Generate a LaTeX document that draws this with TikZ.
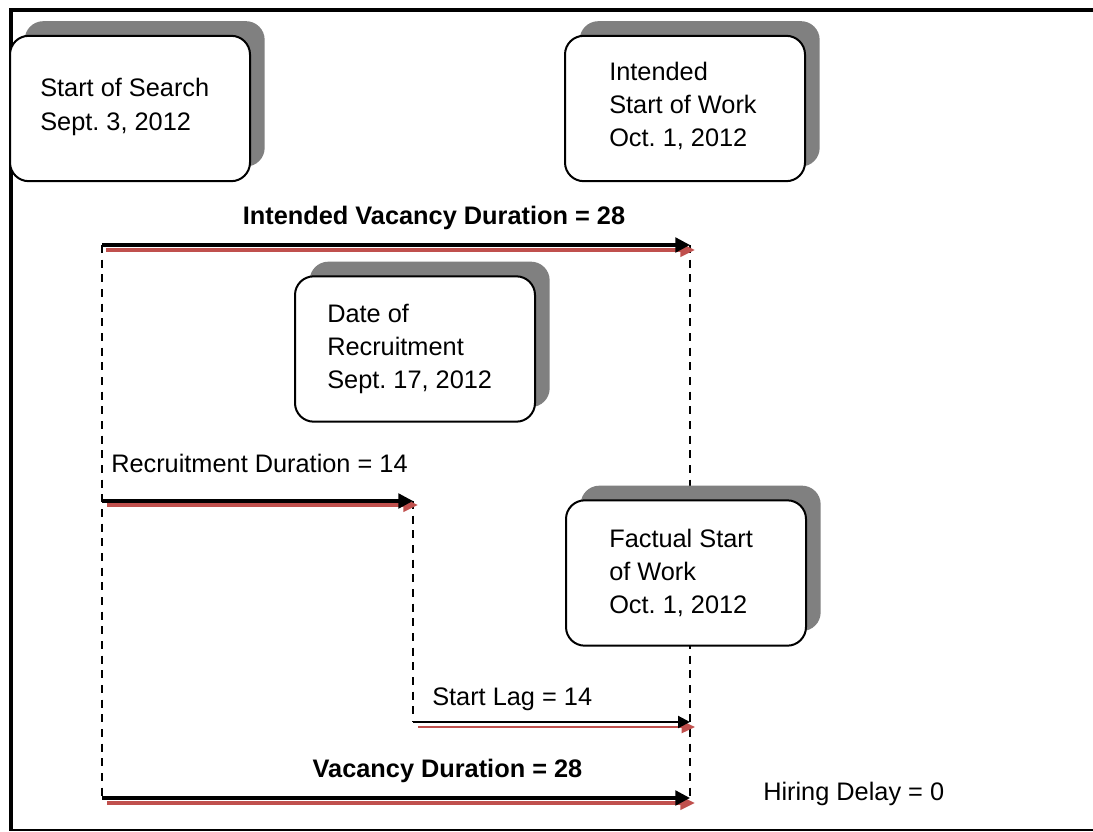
\documentclass[tikz,border=0pt]{standalone}
\usepackage{fontspec}
\setmainfont{Liberation Sans}
\usetikzlibrary{arrows.meta,shadows}
\definecolor{shadowgray}{RGB}{128,128,128}
\definecolor{lagred}{RGB}{192,80,77}
\frenchspacing
\begin{document}
\begin{tikzpicture}[x=0.75pt,y=-0.75pt,
  every node/.style={font=\fontsize{19}{25}\selectfont},
  datebox/.style={draw=black, line width=1.5pt, fill=white, rounded corners=14pt,
    minimum width=180pt, minimum height=109pt, inner sep=0pt,
    drop shadow={shadow xshift=11pt, shadow yshift=11pt, fill=shadowgray, opacity=1}},
  boxtext/.style={anchor=west, align=left, inner sep=0pt},
  tag/.style={inner sep=0pt},
  boldtag/.style={inner sep=0pt, font=\fontsize{19}{25}\selectfont\bfseries},
  guide/.style={draw=black, line width=1.4pt, dash pattern=on 6pt off 5pt},
  span/.style={draw=black, line width=2.4pt, -{Triangle[length=11pt,width=11pt]}},
  thinspan/.style={draw=black, line width=1.6pt, -{Triangle[length=9pt,width=9pt]}},
  echo/.style={draw=lagred, line width=2.4pt, -{Triangle[length=11pt,width=10pt]}},
  thinecho/.style={draw=lagred, line width=1.8pt, -{Triangle[length=10pt,width=9pt]}}]
\useasboundingbox (0,0) rectangle (1093,832);

% outer frame
\draw[line width=3pt] (1093,9.5) -- (10.5,9.5) -- (10.5,830);
\draw[line width=2pt] (9,830) -- (1093,830);

% end points of the duration arrows
\coordinate (iS) at (102,245);  \coordinate (iE) at (690,245);
\coordinate (iS2) at (106,250); \coordinate (iE2) at (695,250);
\coordinate (rS) at (102,501);  \coordinate (rE) at (413,501);
\coordinate (rS2) at (107,505); \coordinate (rE2) at (418,505);
\coordinate (lS) at (413,722);  \coordinate (lE) at (690,722);
\coordinate (lS2) at (418,727); \coordinate (lE2) at (695,727);
\coordinate (vS) at (102,798);  \coordinate (vE) at (690,798);
\coordinate (vS2) at (107,803); \coordinate (vE2) at (695,803);

% dashed guide lines
\draw[guide] (iS) -- (vS);
\draw[guide] (iE) -- (vE);
\draw[guide] (rE) -- (lS);

% duration arrows: red echo underneath, black on top
\draw[echo] (iS2) -- (iE2);
\draw[span] (iS) -- (iE);
\draw[echo] (rS2) -- (rE2);
\draw[span] (rS) -- (rE);
\draw[thinecho] (lS2) -- (lE2);
\draw[thinspan] (lS) -- (lE);
\draw[echo] (vS2) -- (vE2);
\draw[span] (vS) -- (vE);

% date boxes
\node[datebox] (search) at (130,108.5) {};
\node[datebox] (intended) at (685,108.5) {};
\node[datebox] (recruit) at (415,349) {};
\node[datebox] (factual) at (686,573) {};

\node[boxtext] (searchtxt) at (40,107) {Start of Search\\Sept. 3, 2012};
\node[boxtext] (intendedtxt) at (609,106) {Intended\\Start of Work\\Oct. 1, 2012};
\node[boxtext] (recruittxt) at (327,349) {Date of\\Recruitment\\Sept. 17, 2012};
\node[boxtext] (factualtxt) at (609,573) {Factual Start\\of Work\\Oct. 1, 2012};

% duration labels
\node[boldtag, anchor=base] (ivd) at (434,224) {Intended Vacancy Duration = 28};
\node[tag, anchor=base west] (rd) at (111,472) {Recruitment Duration = 14};
\node[tag, anchor=base west] (sl) at (432,705) {Start Lag = 14};
\node[boldtag, anchor=base] (vd) at (447.5,777) {Vacancy Duration = 28};
\node[tag, anchor=base west] (hd) at (763,800) {Hiring Delay = 0};
\end{tikzpicture}
\end{document}
